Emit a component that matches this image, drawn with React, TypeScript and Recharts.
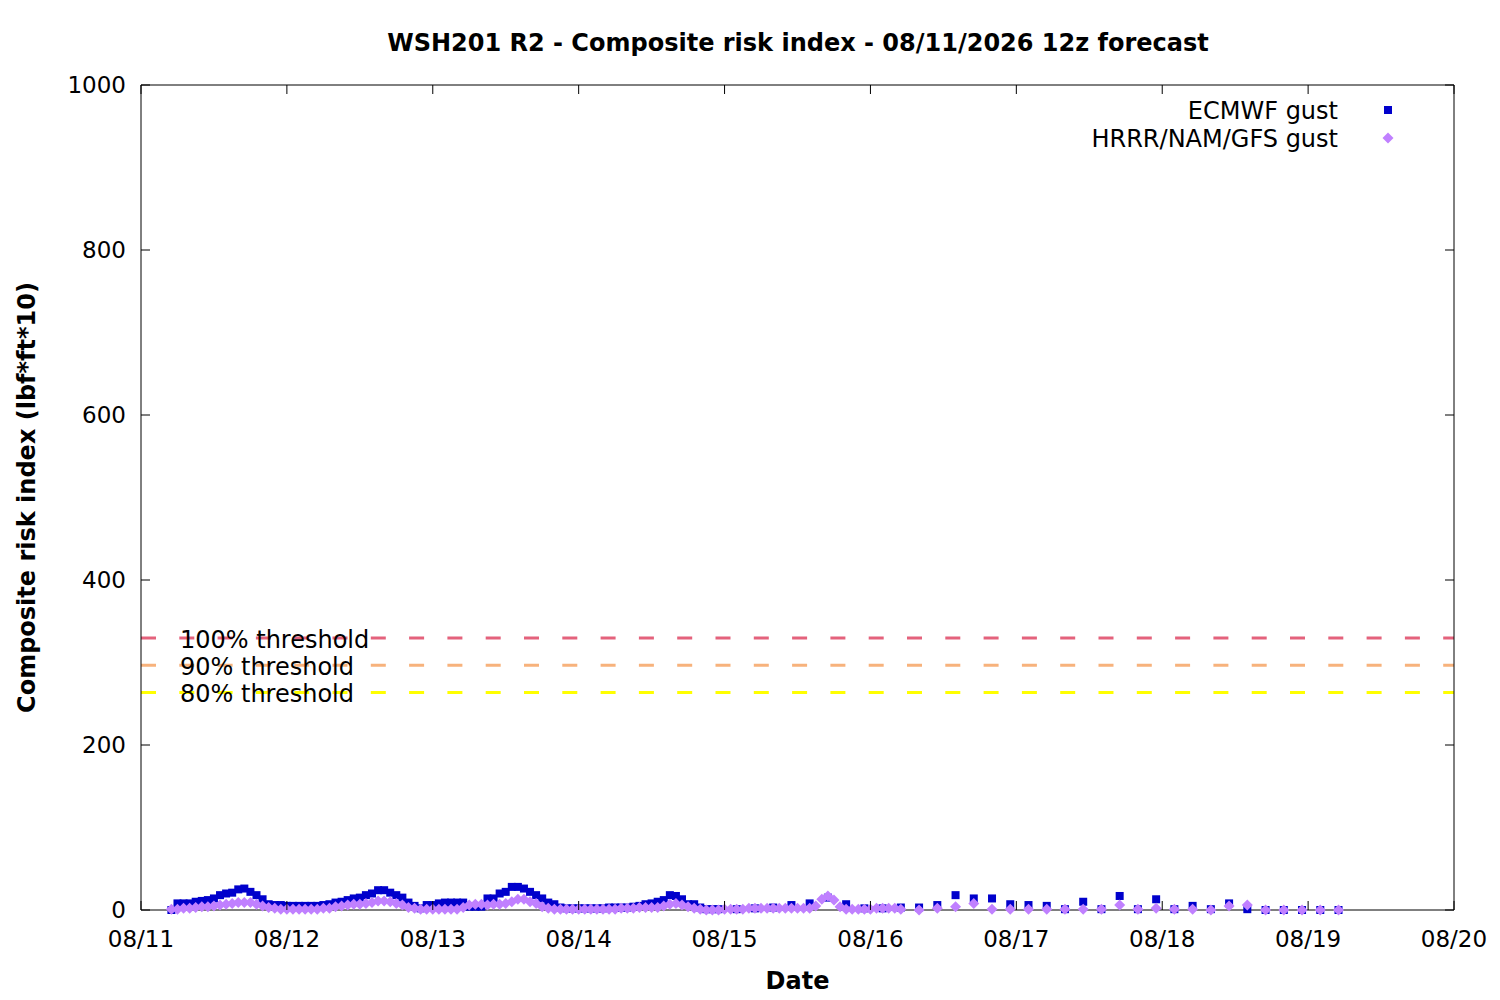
import React from 'react';
import { ScatterChart, Scatter, XAxis, YAxis, ReferenceLine } from 'recharts';

// x axis is hours since 08/11 00:00
const dayTicks = [0, 24, 48, 72, 96, 120, 144, 168, 192, 216];
const dayLabels = ['08/11', '08/12', '08/13', '08/14', '08/15', '08/16', '08/17', '08/18', '08/19', '08/20'];
const riskTicks = [0, 200, 400, 600, 800, 1000];

// ECMWF gust: hourly from +5h to +95h, then every 3h to +197h
const ecmwfHourlyStart = 5;
const ecmwfHourly = [
  0, 8, 8, 8, 10, 11, 12, 14, 18, 20,
  21, 25, 26, 22, 18, 13, 7, 6, 6, 5,
  5, 5, 5, 5, 5, 6, 7, 9, 10, 12,
  14, 15, 18, 20, 24, 24, 21, 18, 15, 9,
  5, 2, 6, 6, 8, 9, 9, 9, 9, 4,
  4, 4, 14, 14, 20, 22, 28, 28, 26, 22,
  18, 14, 9, 7, 3, 2, 2, 2, 2, 2,
  2, 2, 3, 3, 3, 3, 4, 5, 7, 8,
  10, 12, 18, 17, 13, 7, 7, 3, 1, 1,
  1,
];
const ecmwf3hStart = 98;
const ecmwf3h = [
  1, 2, 3, 6, 8, 15, 7, 2, 2, 3,
  3, 6, 18, 14, 14, 7, 6, 5, 1, 10,
  1, 17, 1, 13, 1, 5, 1, 8, 1, 0,
  0, 0, 0, 0,
];

// HRRR/NAM/GFS gust: hourly from +5h to +125h, then every 3h to +197h
const blendHourlyStart = 5;
const blendHourly = [
  1, 1, 2, 2, 3, 4, 4, 5, 6, 7,
  8, 9, 9, 9, 7, 5, 3, 2, 1, 1,
  1, 1, 1, 1, 1, 2, 2, 4, 5, 6,
  7, 7, 8, 9, 11, 11, 10, 8, 6, 3,
  2, 1, 1, 1, 1, 1, 1, 1, 3, 6,
  7, 7, 6, 7, 7, 8, 10, 13, 13, 10,
  8, 4, 2, 1, 1, 1, 1, 1, 1, 1,
  1, 1, 1, 1, 2, 2, 2, 3, 3, 3,
  3, 5, 7, 8, 6, 4, 2, 1, 0, 0,
  0, 1, 1, 1, 1, 2, 2, 2, 2, 2,
  2, 2, 2, 2, 2, 2, 5, 13, 17, 12,
  4, 1, 1, 1, 1, 1, 2, 2, 2, 2,
  1,
];
const blend3hStart = 128;
const blend3h = [
  0, 2, 4, 8, 1, 1, 1, 1, 1, 1,
  1, 6, 1, 2, 1, 1, 0, 5, 6, 0,
  0, 0, 0, 0,
];

const thresholdLabels = ['100% threshold', '90% threshold', '80% threshold'];
const thresholdValues = [329.6, 296.6, 263.7];

const thresholdColors = ['#e4627c', '#f7b27c', '#ffff00'];
const ecmwfColor = '#0000cc';
const blendColor = '#c080ff';
const font = 'DejaVu Sans';

const toPoints = (start: number, step: number, values: number[]) =>
  values.map((v, i) => ({ h: start + i * step, v }));

const ecmwfData = [...toPoints(ecmwfHourlyStart, 1, ecmwfHourly), ...toPoints(ecmwf3hStart, 3, ecmwf3h)];
const blendData = [...toPoints(blendHourlyStart, 1, blendHourly), ...toPoints(blend3hStart, 3, blend3h)];

const Square = (props: any) => (
  <rect x={props.cx - 4} y={props.cy - 4} width={8} height={8} fill={ecmwfColor} />
);

const Diamond = (props: any) => {
  const { cx, cy } = props;
  const r = 5.5;
  return <polygon points={`${cx},${cy - r} ${cx + r},${cy} ${cx},${cy + r} ${cx - r},${cy}`} fill={blendColor} />;
};

const NoMark = () => <g />;

// gnuplot-style ticks pointing into the plot
const BottomTick = (props: any) => {
  const { x, y, payload } = props;
  return (
    <g>
      <line x1={x} x2={x} y1={y} y2={y - 9} stroke="#000" />
      <text x={x} y={y + 37} textAnchor="middle" fontSize={23} fontFamily={font} fill="#000">
        {dayLabels[dayTicks.indexOf(payload.value)]}
      </text>
    </g>
  );
};

const TopTick = (props: any) => {
  const { x, y } = props;
  return <line x1={x} x2={x} y1={y} y2={y + 9} stroke="#000" />;
};

const LeftTick = (props: any) => {
  const { x, y, payload } = props;
  return (
    <g>
      <line x1={x} x2={x + 9} y1={y} y2={y} stroke="#000" />
      <text x={x - 15} y={y + 8} textAnchor="end" fontSize={23} fontFamily={font} fill="#000">
        {payload.value}
      </text>
    </g>
  );
};

const RightTick = (props: any) => {
  const { x, y } = props;
  return <line x1={x} x2={x - 9} y1={y} y2={y} stroke="#000" />;
};

const thresholdLabel = (text: string) => (props: any) => {
  const { viewBox } = props;
  return (
    <text x={viewBox.x + 39} y={viewBox.y + 10} fontSize={24} fontFamily={font} fill="#000">
      {text}
    </text>
  );
};

const XLabel = (props: any) => {
  const { viewBox } = props;
  return (
    <text x={viewBox.x + viewBox.width / 2} y={viewBox.y + 79} textAnchor="middle" fontSize={24} fontWeight="bold" fontFamily={font} fill="#000">
      Date
    </text>
  );
};

const YLabel = (props: any) => {
  const { viewBox } = props;
  const cx = 27;
  const cy = viewBox.y + viewBox.height / 2;
  return (
    <text x={cx} y={cy} transform={`rotate(-90, ${cx}, ${cy})`} textAnchor="middle" dominantBaseline="central" fontSize={24} fontWeight="bold" fontFamily={font} fill="#000">
      Composite risk index (lbf*ft*10)
    </text>
  );
};

export default function App() {
  return (
    <div style={{ position: 'absolute', left: 0, top: 0, width: 1500, height: 1000, background: '#fff' }}>
      <ScatterChart width={1500} height={1000} margin={{ top: 84, right: 45, bottom: 0, left: 21 }}>
        <XAxis
          xAxisId={0}
          type="number"
          dataKey="h"
          domain={[0, 216]}
          ticks={dayTicks}
          interval={0}
          height={90}
          tickSize={0}
          tickMargin={0}
          tickLine={false}
          axisLine={{ stroke: '#000' }}
          tick={<BottomTick />}
          label={<XLabel />}
        />
        <XAxis
          xAxisId="top"
          orientation="top"
          type="number"
          dataKey="h"
          domain={[0, 216]}
          ticks={dayTicks}
          interval={0}
          height={1}
          tickSize={0}
          tickMargin={0}
          tickLine={false}
          axisLine={{ stroke: '#000' }}
          tick={<TopTick />}
        />
        <YAxis
          yAxisId={0}
          type="number"
          dataKey="v"
          domain={[0, 1000]}
          ticks={riskTicks}
          interval={0}
          width={120}
          tickSize={0}
          tickMargin={0}
          tickLine={false}
          axisLine={{ stroke: '#000' }}
          tick={<LeftTick />}
          label={<YLabel />}
        />
        <YAxis
          yAxisId="right"
          orientation="right"
          type="number"
          dataKey="v"
          domain={[0, 1000]}
          ticks={riskTicks}
          interval={0}
          width={1}
          tickSize={0}
          tickMargin={0}
          tickLine={false}
          axisLine={{ stroke: '#000' }}
          tick={<RightTick />}
        />
        {thresholdValues.map((t, i) => (
          <ReferenceLine
            key={thresholdLabels[i]}
            xAxisId={0}
            yAxisId={0}
            y={t}
            stroke={thresholdColors[i]}
            strokeWidth={3}
            strokeDasharray="15 23.3"
            label={thresholdLabel(thresholdLabels[i])}
          />
        ))}
        {/* invisible series so the mirrored frame axes get their ticks */}
        <Scatter data={ecmwfData} xAxisId="top" yAxisId="right" shape={NoMark} isAnimationActive={false} />
        <Scatter name="ECMWF gust" data={ecmwfData} xAxisId={0} yAxisId={0} shape={Square} isAnimationActive={false} />
        <Scatter name="HRRR/NAM/GFS gust" data={blendData} xAxisId={0} yAxisId={0} shape={Diamond} isAnimationActive={false} />
      </ScatterChart>
      <svg width={1500} height={1000} style={{ position: 'absolute', left: 0, top: 0, pointerEvents: 'none' }}>
        <text x={798} y={51} textAnchor="middle" fontSize={24} fontWeight="bold" fontFamily={font} fill="#000">
          WSH201 R2 - Composite risk index - 08/11/2026 12z forecast
        </text>
        <text x={1338} y={119} textAnchor="end" fontSize={24} fontFamily={font} fill="#000">ECMWF gust</text>
        <rect x={1384} y={106} width={8} height={8} fill={ecmwfColor} />
        <text x={1338} y={147} textAnchor="end" fontSize={24} fontFamily={font} fill="#000">HRRR/NAM/GFS gust</text>
        <polygon points="1388,132.5 1393.5,138 1388,143.5 1382.5,138" fill={blendColor} />
      </svg>
    </div>
  );
}
